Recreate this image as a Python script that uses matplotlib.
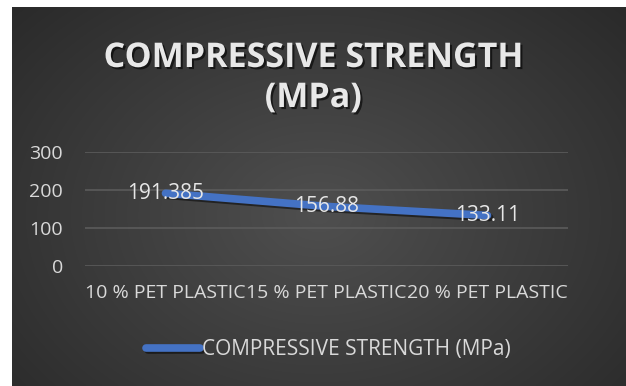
import matplotlib
matplotlib.use('Agg')
import matplotlib.pyplot as plt
import matplotlib.patheffects as pe
import numpy as np

categories = ['10 % PET PLASTIC', '15 % PET PLASTIC', '20 % PET PLASTIC']
strength = [191.385, 156.88, 133.11]
strength_labels = ['191.385', '156.88', '133.11']
y_ticks = [0, 100, 200, 300]
series_name = 'COMPRESSIVE STRENGTH (MPa)'

W, H, DPI = 626, 386, 100
BLUE = '#4472C4'
TEXT = '#d9d9d9'
GRID = '#5b5b5b'
FONT = ['Open Sans', 'DejaVu Sans']

fig = plt.figure(figsize=(W / DPI, H / DPI), dpi=DPI, facecolor='white')

# dark panel with radial gradient
bg = fig.add_axes([12 / W, 0, 1 - 12 / W, 1 - 7 / H])
bg.set_axis_off()
yy, xx = np.mgrid[0:1:200j, 0:1:300j]
r = np.sqrt(((xx - 0.5) / 0.75) ** 2 + ((yy - 0.55) / 0.9) ** 2)
shade = np.clip(0.31 - 0.16 * r, 0.15, 0.31)
bg.imshow(np.dstack([shade] * 3), aspect='auto', extent=[0, 1, 0, 1],
          interpolation='bilinear')

# plot area
x0, x1 = 85, 568
y_top, y_bot = 152, 266
ax = fig.add_axes([x0 / W, 1 - y_bot / H, (x1 - x0) / W, (y_bot - y_top) / H])
ax.patch.set_alpha(0)
ax.set_ylim(0, 300)
ax.set_xlim(-0.5, len(categories) - 0.5)
ax.set_yticks(y_ticks)
ax.set_yticklabels([str(v) for v in y_ticks], fontsize=14, color=TEXT,
                   family=FONT)
ax.set_xticks(range(len(categories)))
ax.set_xticklabels(categories, fontsize=14, color=TEXT, family=FONT)
ax.tick_params(length=0, axis='y', pad=16)
ax.tick_params(length=0, axis='x', pad=13)
for s in ax.spines.values():
    s.set_visible(False)
ax.grid(axis='y', color=GRID, lw=1.2)
ax.set_axisbelow(True)

xs = np.arange(len(categories))
line, = ax.plot(xs, strength, color=BLUE, lw=5.5, solid_capstyle='round',
                label=series_name, clip_on=False,
                path_effects=[pe.SimpleLineShadow(offset=(1.5, -1.5),
                                                  shadow_color='black', alpha=0.5),
                              pe.Normal()])

for x, v, lab in zip(xs, strength, strength_labels):
    ax.text(x, v, lab, ha='center', va='center', fontsize=15, color='#e6e6e6',
            family=FONT)

# title
shadow = [pe.withSimplePatchShadow(offset=(1.5, -1.5), shadow_rgbFace='black',
                                   alpha=0.6)]
fig.text(313 / W, 1 - 58 / H, 'COMPRESSIVE STRENGTH', ha='center', va='center',
         fontsize=24.5, fontweight='bold', color='#e8e8e8', family=FONT,
         path_effects=shadow)
fig.text(313 / W, 1 - 98 / H, '(MPa)', ha='center', va='center',
         fontsize=24.5, fontweight='bold', color='#e8e8e8', family=FONT,
         path_effects=shadow)

# legend
leg = fig.legend(handles=[line], loc='center', bbox_to_anchor=(328 / W, 1 - 350 / H),
                 frameon=False, handlelength=2.6, handletextpad=0.1,
                 prop={'family': FONT, 'size': 15})
for t in leg.get_texts():
    t.set_color(TEXT)

fig.savefig('out.png', dpi=DPI, facecolor='white')
